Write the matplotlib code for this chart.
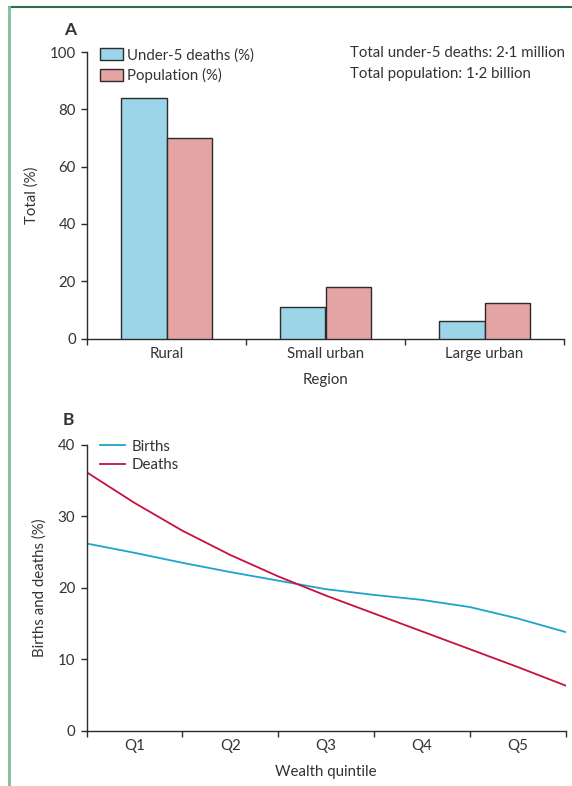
import matplotlib
matplotlib.use("Agg")
import matplotlib.pyplot as plt
from matplotlib.lines import Line2D
from matplotlib.patches import Patch
import numpy as np

# ---------------- data ----------------
regions = ["Rural", "Small urban", "Large urban"]
under5_deaths_pct = [84, 11, 6]
population_pct = [70, 18, 12.5]

quintiles = ["Q1", "Q2", "Q3", "Q4", "Q5"]
# readings along the wealth-quintile scale (0 = start of Q1, 5 = end of Q5)
wealth_scale = [0, 0.5, 1, 1.5, 2, 2.5, 3, 3.5, 4, 4.5, 5]
births_pct = [26.2, 24.9, 23.5, 22.2, 21.0, 19.8, 19.0, 18.3, 17.3, 15.7, 13.8]
deaths_pct = [36.2, 31.9, 28.0, 24.6, 21.6, 18.9, 16.4, 13.9, 11.4, 8.9, 6.3]

# ---------------- style ----------------
plt.rcParams["font.family"] = ["Lato", "DejaVu Sans"]
TXT = "#333333"
AX = "#2b2b2b"
BLUE = "#9dd5e8"
PINK = "#e3a4a3"
LBLUE = "#1fa3cc"
CRIMSON = "#c8103e"
FS = 10.8

fig = plt.figure(figsize=(5.72, 7.86), dpi=100)
W, H = 572, 786

# frame lines
fig.add_artist(Line2D([8.5 / W, 1], [1 - 7 / H, 1 - 7 / H], color="#2a6e4a", lw=1.5))
fig.add_artist(Line2D([8.5 / W, 8.5 / W], [0, 1 - 7 / H], color="#7dbf9a", lw=2))


def style_axes(ax):
    for s in ["top", "right"]:
        ax.spines[s].set_visible(False)
    for s in ["left", "bottom"]:
        ax.spines[s].set_color(AX)
        ax.spines[s].set_linewidth(1.0)
    ax.tick_params(axis="both", which="major", direction="out", length=4.5,
                   width=1.0, color=AX, labelcolor=TXT, labelsize=FS)
    ax.tick_params(axis="x", which="minor", length=0, labelcolor=TXT,
                   labelsize=FS, pad=6)
    ax.tick_params(axis="x", which="major", labelbottom=False)


# ---------------- panel A ----------------
axA = fig.add_axes([87 / W, 1 - 338.5 / H, (564 - 87) / W, (338.5 - 52) / H])
style_axes(axA)
n = len(regions)
centers = np.arange(n) + 0.5
bw = 0.286
axA.bar(centers - bw / 2, under5_deaths_pct, width=bw, color=BLUE,
        edgecolor=AX, linewidth=1.0, zorder=3)
axA.bar(centers + bw / 2, population_pct, width=bw, color=PINK,
        edgecolor=AX, linewidth=1.0, zorder=3)
axA.set_xlim(0, n)
axA.set_ylim(0, 100)
axA.set_yticks([0, 20, 40, 60, 80, 100])
axA.set_xticks(np.arange(n + 1))
axA.set_xticks(centers, minor=True)
axA.set_xticklabels(regions, minor=True)
axA.set_ylabel("Total (%)", color=TXT, fontsize=FS, labelpad=8)
axA.set_xlabel("Region", color=TXT, fontsize=FS, labelpad=9)
fig.text(70 / W, 1 - 30 / H, "A", fontsize=12.5, fontweight="bold", color=TXT,
         ha="center", va="center")
leg = axA.legend(handles=[Patch(facecolor=BLUE, edgecolor=AX, lw=1.0, label="Under-5 deaths (%)"),
                          Patch(facecolor=PINK, edgecolor=AX, lw=1.0, label="Population (%)")],
                 loc="upper left", bbox_to_anchor=(0.015, 1.035), frameon=False,
                 fontsize=FS, handlelength=1.5, handleheight=0.85, handletextpad=0.3,
                 labelspacing=0.4, borderaxespad=0)
for t in leg.get_texts():
    t.set_color(TXT)
fig.text(350 / W, 1 - 53 / H, "Total under-5 deaths: 2\u00b71 million",
         fontsize=FS, color=TXT, ha="left", va="center")
fig.text(350 / W, 1 - 74 / H, "Total population: 1\u00b72 billion",
         fontsize=FS, color=TXT, ha="left", va="center")

# ---------------- panel B ----------------
axB = fig.add_axes([86.5 / W, 1 - 730.5 / H, (565.5 - 86.5) / W, (730.5 - 445) / H])
style_axes(axB)
axB.plot(wealth_scale, births_pct, color=LBLUE, lw=1.3, label="Births")
axB.plot(wealth_scale, deaths_pct, color=CRIMSON, lw=1.3, label="Deaths")
nq = len(quintiles)
axB.set_xlim(0, nq)
axB.set_ylim(0, 40)
axB.set_yticks([0, 10, 20, 30, 40])
axB.set_xticks(np.arange(nq + 1))
axB.set_xticks(np.arange(nq) + 0.5, minor=True)
axB.set_xticklabels(quintiles, minor=True)
axB.set_ylabel("Births and deaths (%)", color=TXT, fontsize=FS, labelpad=8)
axB.set_xlabel("Wealth quintile", color=TXT, fontsize=FS, labelpad=9)
fig.text(68 / W, 1 - 420 / H, "B", fontsize=12.5, fontweight="bold", color=TXT,
         ha="center", va="center")
legB = axB.legend(loc="upper left", bbox_to_anchor=(0.015, 1.04), frameon=False,
                  fontsize=FS, handlelength=1.7, handletextpad=0.45,
                  labelspacing=0.3, borderaxespad=0)
for t in legB.get_texts():
    t.set_color(TXT)

fig.savefig("out.png", dpi=100)
